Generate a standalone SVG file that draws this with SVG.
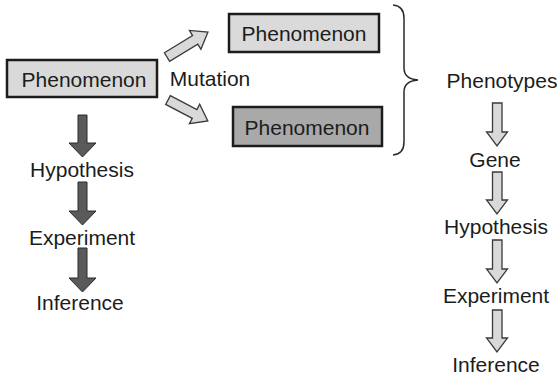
<svg xmlns="http://www.w3.org/2000/svg" width="559" height="377" viewBox="0 0 559 377">
<style>
text{font-family:"Liberation Sans",Arial,sans-serif;font-size:21px;fill:#1c1c1c;text-anchor:middle}
.box{stroke:#1c1c1c;stroke-width:2.5}
.dark{fill:#5a5a5a;stroke:#2a2a2a;stroke-width:1}
.hollow{fill:#d9d9d9;stroke:#3a3a3a;stroke-width:1.3}
.brace{fill:none;stroke:#2a2a2a;stroke-width:1.5}
</style>
<rect width="559" height="377" fill="#fff"/>
<g id="phen-main"><rect class="box" x="7" y="60" width="150" height="37" fill="#d9d9d9"/><text x="84" y="87">Phenomenon</text></g>
<g id="phen-top"><rect class="box" x="229" y="14" width="150" height="38" fill="#dadada"/><text x="304" y="41">Phenomenon</text></g>
<g id="phen-bottom"><rect class="box" x="233" y="107" width="149" height="39" fill="#a9a9a9"/><text x="307" y="135">Phenomenon</text></g>
<g id="mutation"><text x="210" y="86">Mutation</text></g>
<g id="hyp-left"><text x="82" y="177">Hypothesis</text></g>
<g id="exp-left"><text x="82" y="245">Experiment</text></g>
<g id="inf-left"><text x="80" y="310">Inference</text></g>
<g id="phenotypes"><text x="502" y="88">Phenotypes</text></g>
<g id="gene"><text x="495" y="167">Gene</text></g>
<g id="hyp-right"><text x="496" y="234">Hypothesis</text></g>
<g id="exp-right"><text x="496" y="303">Experiment</text></g>
<g id="inf-right"><text x="496" y="372">Inference</text></g>
<g id="connectors">
<path class="hollow" d="M0,-5 L33,-5 L33,-11 L48,0 L33,11 L33,5 L0,5 Z" transform="translate(167,57) rotate(-31.4)"/>
<path class="hollow" d="M0,-5 L30,-5 L30,-11 L45,0 L30,11 L30,5 L0,5 Z" transform="translate(168,100) rotate(27.7)"/>
<path class="brace" d="M393,5 Q404,6 404,18 L404,68 Q404,79 418,80 Q404,81 404,92 L404,142 Q404,154 393,155"/>
<path class="dark" d="M78,115 L87,115 L87,143 L96,143 L82.5,157 L69,143 L78,143 Z"/>
<path class="dark" d="M78,182 L87,182 L87,211 L96,211 L82.5,225 L69,211 L78,211 Z"/>
<path class="dark" d="M78,248 L87,248 L87,278 L96,278 L82.5,292 L69,278 L78,278 Z"/>
<path class="hollow" d="M492.5,103 L502,103 L502,132 L507.5,132 L497,146 L486.5,132 L492.5,132 Z"/>
<path class="hollow" d="M492.5,172 L502,172 L502,200 L507.5,200 L497,214 L486.5,200 L492.5,200 Z"/>
<path class="hollow" d="M492.5,240 L502,240 L502,269 L507.5,269 L497,283 L486.5,269 L492.5,269 Z"/>
<path class="hollow" d="M492.5,310 L502,310 L502,338 L507.5,338 L497,352 L486.5,338 L492.5,338 Z"/>
</g>
</svg>
